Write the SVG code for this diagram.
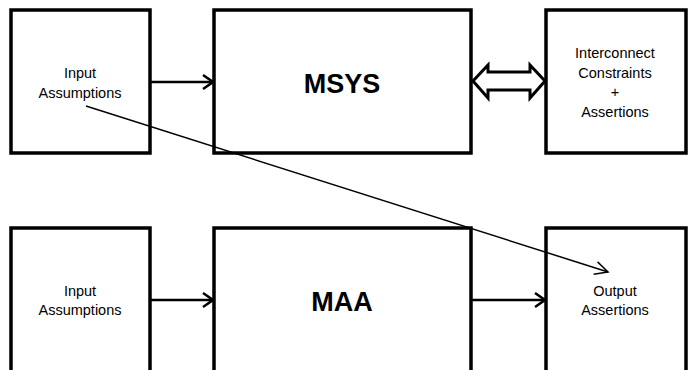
<svg xmlns="http://www.w3.org/2000/svg" width="693" height="370" viewBox="0 0 693 370">
  <style>
    .box { fill: #fff; stroke: #000; stroke-width: 3.5; }
    .lbl { font-family: "Liberation Sans", Arial, sans-serif; font-size: 14.5px; fill: #000; text-anchor: middle; }
    .big { font-family: "Liberation Sans", Arial, sans-serif; font-size: 27px; font-weight: bold; fill: #000; text-anchor: middle; }
    .conn { fill: none; stroke: #000; stroke-width: 2.5; }
    .thin { fill: none; stroke: #000; stroke-width: 1.5; }
  </style>
  <defs>
    <marker id="open" markerUnits="userSpaceOnUse" viewBox="-12 -9 14 18" markerWidth="14" markerHeight="18" refX="0" refY="0" orient="auto">
      <path d="M-10,-7 L0,0 L-10,7" fill="none" stroke="#000" stroke-width="2.5"/>
    </marker>
    <marker id="openThin" markerUnits="userSpaceOnUse" viewBox="-14 -9 16 18" markerWidth="16" markerHeight="18" refX="0" refY="0" orient="auto">
      <path d="M-13,-6.5 L0,0 L-13,6.5" fill="none" stroke="#000" stroke-width="1.5"/>
    </marker>
  </defs>

  <rect width="693" height="370" fill="#fff"/>

  <!-- top row -->
  <g id="input-top">
    <rect class="box" x="11" y="10" width="139" height="143"/>
    <text class="lbl" x="80" y="78">Input</text>
    <text class="lbl" x="80" y="98">Assumptions</text>
  </g>
  <g id="msys">
    <rect class="box" x="214" y="10" width="257" height="143"/>
    <text class="big" x="342" y="93">MSYS</text>
  </g>
  <g id="interconnect">
    <rect class="box" x="546" y="10" width="140" height="143"/>
    <text class="lbl" x="615" y="58">Interconnect</text>
    <text class="lbl" x="615" y="78">Constraints</text>
    <text class="lbl" x="615" y="97">+</text>
    <text class="lbl" x="615" y="117">Assertions</text>
  </g>

  <!-- bottom row -->
  <g id="input-bottom">
    <rect class="box" x="11" y="228" width="139" height="160"/>
    <text class="lbl" x="80" y="296">Input</text>
    <text class="lbl" x="80" y="315">Assumptions</text>
  </g>
  <g id="maa">
    <rect class="box" x="214" y="228" width="257" height="160"/>
    <text class="big" x="342" y="311">MAA</text>
  </g>
  <g id="output">
    <rect class="box" x="546" y="228" width="140" height="160"/>
    <text class="lbl" x="615" y="296">Output</text>
    <text class="lbl" x="615" y="315">Assertions</text>
  </g>

  <!-- connectors -->
  <g id="connectors">
    <line class="conn" x1="151" y1="82" x2="213" y2="82" marker-end="url(#open)"/>
    <line class="conn" x1="151" y1="300" x2="213" y2="300" marker-end="url(#open)"/>
    <line class="conn" x1="472" y1="300" x2="545" y2="300" marker-end="url(#open)"/>
    <path d="M473,81 L488,65 L488,72 L530,72 L530,65 L545,81 L530,98 L530,90 L488,90 L488,98 Z" fill="#fff" stroke="#000" stroke-width="3" stroke-linejoin="miter"/>
    <line class="thin" x1="86" y1="106" x2="608" y2="272" marker-end="url(#openThin)"/>
  </g>
</svg>
